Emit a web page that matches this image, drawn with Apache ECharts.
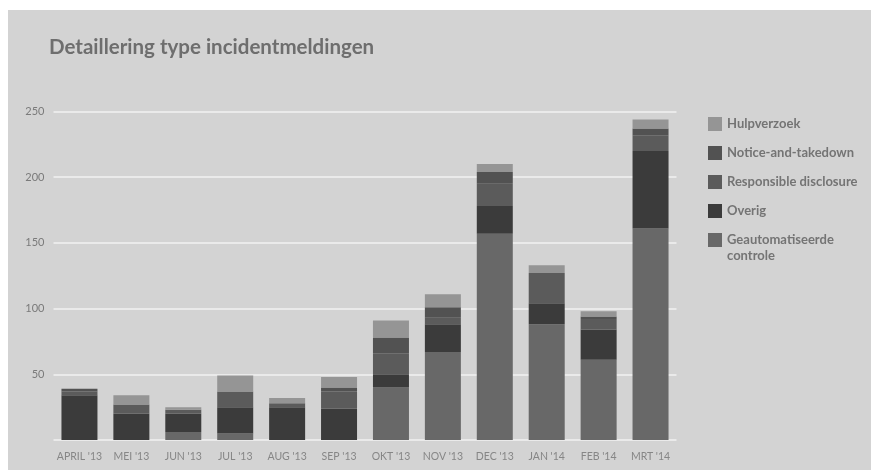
<!DOCTYPE html>
<html>
<head>
<meta charset="utf-8">
<script src="https://cdn.jsdelivr.net/npm/echarts@6/dist/echarts.min.js"></script>
<style>
  html, body { margin: 0; padding: 0; background: #ffffff; }
  #bg { position: absolute; left: 8px; top: 10px; width: 863px; height: 460px; background: #d3d3d3; }
  #chart { position: absolute; left: 0; top: 0; width: 871px; height: 470px; }
</style>
</head>
<body>
<div id="bg"></div>
<div id="chart"></div>
<script>
const categories = ["APRIL '13", "MEI '13", "JUN '13", "JUL '13", "AUG '13", "SEP '13", "OKT '13", "NOV '13", "DEC '13", "JAN '14", "FEB '14", "MRT '14"];
const geautomatiseerde = [0, 0, 6, 5, 0, 0, 40, 67, 157, 88, 61, 161];
const overig = [34, 20, 14, 20, 25, 24, 10, 21, 21, 16, 23, 59];
const responsible = [3, 7, 3, 12, 3, 13, 16, 5, 17, 23, 8, 12];
const notice = [2, 0, 0, 0, 0, 3, 12, 8, 9, 0, 2, 5];
const hulpverzoek = [0, 7, 2, 12, 4, 8, 13, 10, 6, 6, 4, 7];
const yTicks = [0, 50, 100, 150, 200, 250];

const names = {
  hulp: 'Hulpverzoek',
  notice: 'Notice-and-takedown',
  resp: 'Responsible disclosure',
  overig: 'Overig',
  geauto: 'Geautomatiseerde controle'
};
const colors = {
  hulp: '#959595',
  notice: '#525252',
  resp: '#5b5b5b',
  overig: '#3b3b3b',
  geauto: '#686868'
};

const chart = echarts.init(document.getElementById('chart'), null, { renderer: 'canvas' });

function bar(name, data, color) {
  return {
    name: name,
    type: 'bar',
    stack: 'total',
    data: data,
    barWidth: 36,
    itemStyle: { color: color },
    emphasis: { disabled: true }
  };
}

const legendText = { fontFamily: 'Lato', fontWeight: 'bold', fontSize: 13, color: '#747474', lineHeight: 16 };

const option = {
  backgroundColor: 'transparent',
  animation: false,
  title: {
    text: 'Detaillering type incidentmeldingen',
    left: 44,
    top: 32,
    textStyle: { fontFamily: 'Lato', fontWeight: 'bold', fontSize: 20.5, color: '#6e6e6e' }
  },
  legend: [
    {
      orient: 'vertical',
      left: 708,
      top: 116,
      padding: 0,
      itemWidth: 14,
      itemHeight: 14,
      itemGap: 13,
      icon: 'rect',
      textStyle: legendText,
      data: [names.hulp, names.notice, names.resp, names.overig]
    },
    {
      orient: 'vertical',
      left: 708,
      top: 216,
      padding: 0,
      itemWidth: 14,
      itemHeight: 14,
      icon: 'rect',
      formatter: function () { return '\u00a0\nGeautomatiseerde\ncontrole'; },
      textStyle: legendText,
      data: [names.geauto]
    }
  ],
  grid: { left: 53.5, right: 194.5, top: 111.5, bottom: 30, containLabel: false },
  xAxis: {
    type: 'category',
    data: categories,
    axisLine: { show: false },
    axisTick: { show: false },
    axisLabel: { interval: 0, fontFamily: 'Lato', fontSize: 10.5, color: '#868686', margin: 11 }
  },
  yAxis: {
    type: 'value',
    min: yTicks[0],
    max: yTicks[yTicks.length - 1],
    interval: 50,
    axisLine: { show: false },
    axisTick: { show: false },
    axisLabel: {
      fontFamily: 'Lato', fontSize: 11, color: '#7a7a7a', margin: 9,
      formatter: function (v) { return v === 0 ? '' : String(v); }
    },
    splitLine: { lineStyle: { color: '#f2f2f2', width: 1.5 } }
  },
  series: [
    bar(names.geauto, geautomatiseerde, colors.geauto),
    bar(names.overig, overig, colors.overig),
    bar(names.resp, responsible, colors.resp),
    bar(names.notice, notice, colors.notice),
    bar(names.hulp, hulpverzoek, colors.hulp)
  ]
};
chart.setOption(option);
</script>
</body>
</html>
